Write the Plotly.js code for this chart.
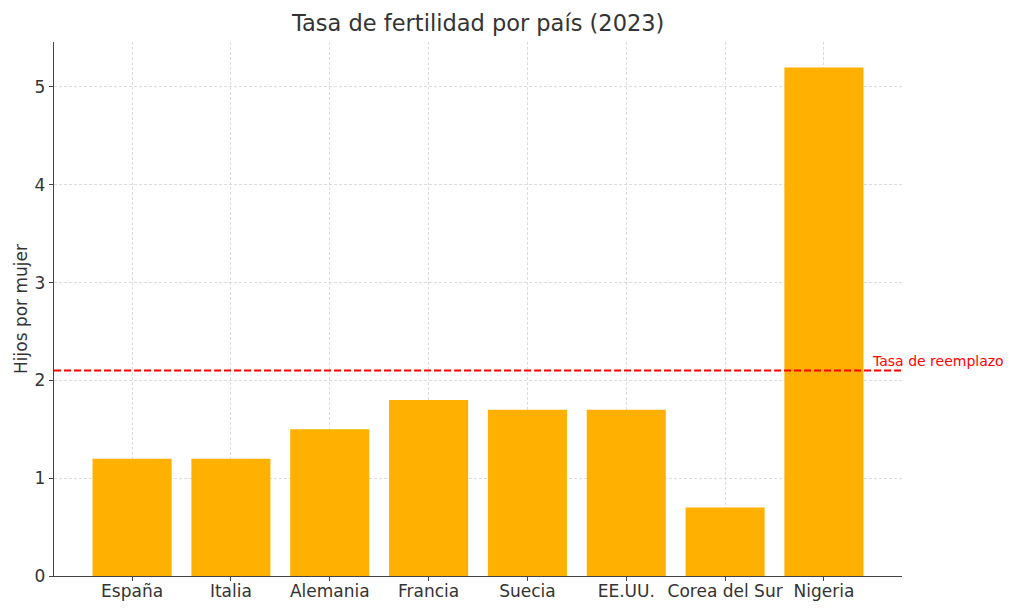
<!DOCTYPE html>
<html>
<head>
<meta charset="utf-8">
<script src="https://cdn.plot.ly/plotly-3.0.1.min.js"></script>
<style>
  html, body { margin: 0; padding: 0; background: #fff; }
  #chart { width: 1024px; height: 614px; }
</style>
</head>
<body>
<div id="chart"></div>
<script>
// Tasa de fertilidad 2023
var paises = ["España", "Italia", "Alemania", "Francia", "Suecia", "EE.UU.", "Corea del Sur", "Nigeria"];
var fertilidad = [1.2, 1.2, 1.5, 1.8, 1.7, 1.7, 0.7, 5.2];
var tasaReemplazo = 2.1;
var yTicks = [0, 1, 2, 3, 4, 5];

var barras = {
    x: paises,
    y: fertilidad,
    type: 'bar',
    width: 0.8,
    marker: { color: '#ffb000' },
    hoverinfo: 'x+y'
};

var gridColor = '#d4d4d4';
var textColor = '#333333';

var layout = {
    width: 1024,
    height: 614,
    margin: { l: 54, r: 122, t: 42, b: 38 },
    paper_bgcolor: '#ffffff',
    plot_bgcolor: '#ffffff',
    font: { family: 'DejaVu Sans, sans-serif', size: 17, color: textColor },
    showlegend: false,
    title: {
        text: 'Tasa de fertilidad por país (2023)',
        font: { size: 22.5, color: textColor },
        x: 0.467,
        xanchor: 'center',
        y: 0.962,
        yanchor: 'middle'
    },
    xaxis: {
        range: [-0.79, 7.79],
        showline: true,
        linecolor: '#444444',
        linewidth: 1.3,
        ticks: 'outside',
        ticklen: 4,
        tickcolor: '#444444',
        ticklabelstandoff: -5,
        showgrid: true,
        gridcolor: gridColor,
        griddash: '3px,2px',
        gridwidth: 0.8,
        tickfont: { size: 17, color: textColor },
        zeroline: false,
        fixedrange: true
    },
    yaxis: {
        range: [0, 5.46],
        tickvals: yTicks,
        showline: true,
        linecolor: '#444444',
        linewidth: 1.3,
        ticks: 'outside',
        ticklen: 4,
        tickcolor: '#444444',
        showgrid: true,
        gridcolor: gridColor,
        griddash: '3px,2px',
        gridwidth: 0.8,
        zeroline: false,
        tickfont: { size: 17, color: textColor },
        title: { text: 'Hijos por mujer', font: { size: 17, color: textColor }, standoff: 2 },
        fixedrange: true
    },
    shapes: [{
        type: 'line',
        xref: 'paper',
        yref: 'y',
        x0: 0,
        x1: 1,
        y0: tasaReemplazo,
        y1: tasaReemplazo,
        line: { color: '#ff0000', width: 2, dash: '7px,3px' }
    }],
    annotations: [{
        x: 7.5,
        y: tasaReemplazo + 0.1,
        xref: 'x',
        yref: 'y',
        text: 'Tasa de reemplazo',
        showarrow: false,
        xanchor: 'left',
        yanchor: 'middle',
        xshift: -3,
        font: { size: 14, color: '#ff0000' }
    }]
};

Plotly.newPlot('chart', [barras], layout, { displayModeBar: false, staticPlot: true });
</script>
</body>
</html>
